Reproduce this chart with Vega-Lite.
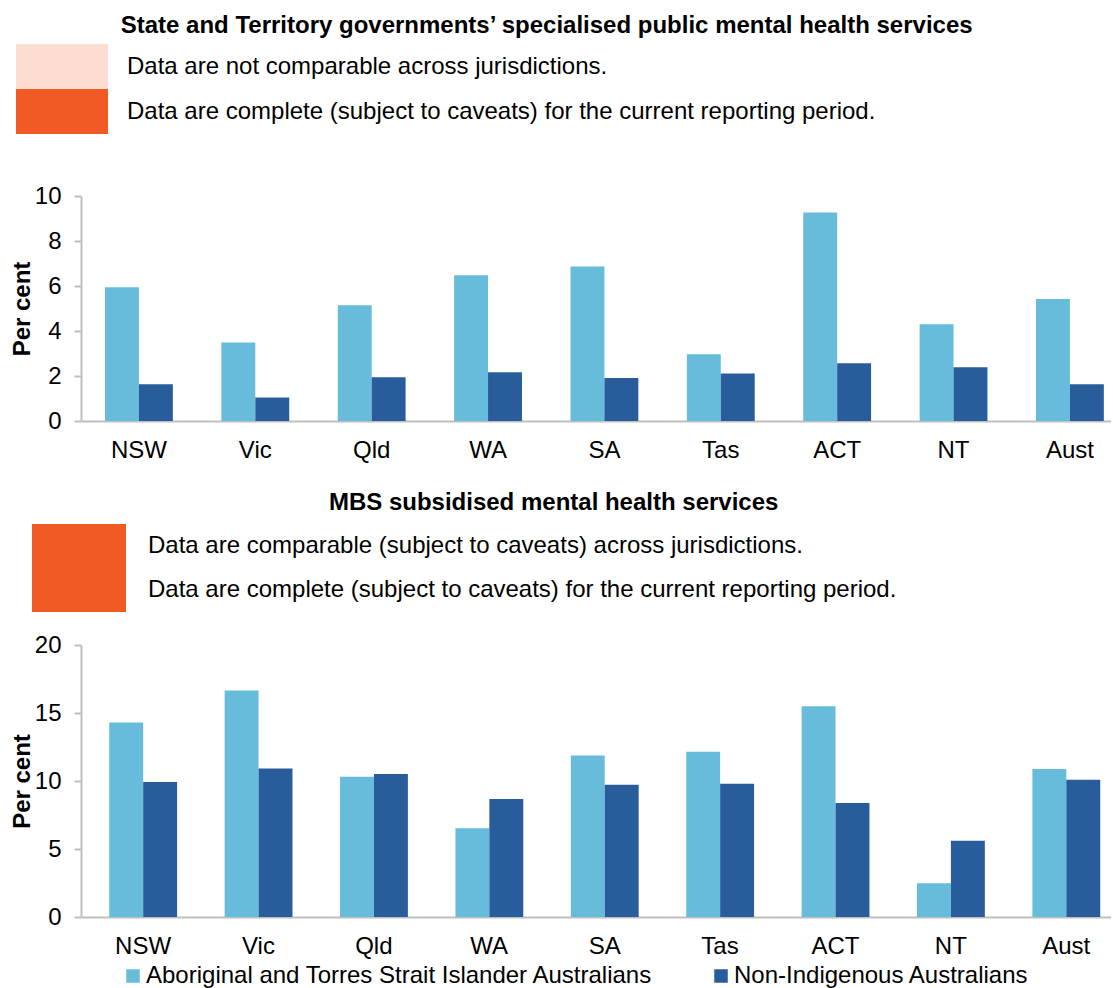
{
  "$schema": "https://vega.github.io/schema/vega-lite/v6.json",
  "padding": {"left": 10, "top": 14, "right": 0, "bottom": 0},
  "background": "white",
  "config": {
    "font": "Liberation Sans",
    "view": {"stroke": null},
    "axis": {"labelColor": "black", "titleColor": "black", "labelFont": "Liberation Sans", "titleFont": "Liberation Sans"},
    "title": {"color": "black", "font": "Liberation Sans"}
  },
  "datasets": {
    "mh1": [
      {"state": "NSW", "group": "Aboriginal and Torres Strait Islander Australians", "value": 5.94},
      {"state": "NSW", "group": "Non-Indigenous Australians", "value": 1.63},
      {"state": "Vic", "group": "Aboriginal and Torres Strait Islander Australians", "value": 3.49},
      {"state": "Vic", "group": "Non-Indigenous Australians", "value": 1.04},
      {"state": "Qld", "group": "Aboriginal and Torres Strait Islander Australians", "value": 5.15},
      {"state": "Qld", "group": "Non-Indigenous Australians", "value": 1.94},
      {"state": "WA", "group": "Aboriginal and Torres Strait Islander Australians", "value": 6.48},
      {"state": "WA", "group": "Non-Indigenous Australians", "value": 2.17},
      {"state": "SA", "group": "Aboriginal and Torres Strait Islander Australians", "value": 6.87},
      {"state": "SA", "group": "Non-Indigenous Australians", "value": 1.91},
      {"state": "Tas", "group": "Aboriginal and Torres Strait Islander Australians", "value": 2.97},
      {"state": "Tas", "group": "Non-Indigenous Australians", "value": 2.11},
      {"state": "ACT", "group": "Aboriginal and Torres Strait Islander Australians", "value": 9.27},
      {"state": "ACT", "group": "Non-Indigenous Australians", "value": 2.57},
      {"state": "NT", "group": "Aboriginal and Torres Strait Islander Australians", "value": 4.30},
      {"state": "NT", "group": "Non-Indigenous Australians", "value": 2.39},
      {"state": "Aust", "group": "Aboriginal and Torres Strait Islander Australians", "value": 5.42},
      {"state": "Aust", "group": "Non-Indigenous Australians", "value": 1.63}
    ],
    "mh2": [
      {"state": "NSW", "group": "Aboriginal and Torres Strait Islander Australians", "value": 14.31},
      {"state": "NSW", "group": "Non-Indigenous Australians", "value": 9.93},
      {"state": "Vic", "group": "Aboriginal and Torres Strait Islander Australians", "value": 16.66},
      {"state": "Vic", "group": "Non-Indigenous Australians", "value": 10.92},
      {"state": "Qld", "group": "Aboriginal and Torres Strait Islander Australians", "value": 10.32},
      {"state": "Qld", "group": "Non-Indigenous Australians", "value": 10.52},
      {"state": "WA", "group": "Aboriginal and Torres Strait Islander Australians", "value": 6.53},
      {"state": "WA", "group": "Non-Indigenous Australians", "value": 8.68},
      {"state": "SA", "group": "Aboriginal and Torres Strait Islander Australians", "value": 11.88},
      {"state": "SA", "group": "Non-Indigenous Australians", "value": 9.73},
      {"state": "Tas", "group": "Aboriginal and Torres Strait Islander Australians", "value": 12.15},
      {"state": "Tas", "group": "Non-Indigenous Australians", "value": 9.79},
      {"state": "ACT", "group": "Aboriginal and Torres Strait Islander Australians", "value": 15.5},
      {"state": "ACT", "group": "Non-Indigenous Australians", "value": 8.38},
      {"state": "NT", "group": "Aboriginal and Torres Strait Islander Australians", "value": 2.49},
      {"state": "NT", "group": "Non-Indigenous Australians", "value": 5.6},
      {"state": "Aust", "group": "Aboriginal and Torres Strait Islander Australians", "value": 10.89},
      {"state": "Aust", "group": "Non-Indigenous Australians", "value": 10.1}
    ],
    "notes1": [
      {"note": "Data are not comparable across jurisdictions."},
      {"note": "Data are complete (subject to caveats) for the current reporting period."}
    ],
    "notes2": [
      {"note": "Data are comparable (subject to caveats) across jurisdictions."},
      {"note": "Data are complete (subject to caveats) for the current reporting period. "}
    ]
  },
  "bounds": "flush",
  "spacing": 224,
  "resolve": {
    "scale": {"fill": "independent", "x": "independent", "y": "independent"},
    "legend": {"fill": "independent", "color": "independent"}
  },
  "vconcat": [
    {
      "title": {"text": "State and Territory governments’ specialised public mental health services", "fontSize": 24, "fontWeight": "bold", "anchor": "middle", "frame": "bounds", "offset": 6, "dx": -14},
      "width": 1030,
      "height": 225,
      "layer": [
        {
          "data": {"name": "notes1"},
          "mark": {"type": "point", "filled": true, "opacity": 0},
          "encoding": {
            "fill": {
              "field": "note", "type": "nominal",
              "scale": {"domain": ["Data are not comparable across jurisdictions.", "Data are complete (subject to caveats) for the current reporting period."], "range": ["#FCDDD2", "#F15A24"]},
              "legend": {"orient": "none", "legendX": -65, "legendY": -152, "title": null, "padding": 0, "rowPadding": 0, "clipHeight": 45,
                "symbolType": "M-1,-0.49H1V0.49H-1Z", "symbolSize": 8464, "symbolOpacity": 1, "symbolStrokeWidth": 0,
                "labelFontSize": 24, "labelFont": "Liberation Sans", "labelColor": "black", "labelOffset": 19, "labelLimit": 1000}
            }
          }
        },
        {
          "data": {"name": "mh1"},
          "mark": {"type": "bar"},
          "encoding": {
            "x": {"field": "state", "type": "nominal", "sort": ["NSW", "Vic", "Qld", "WA", "SA", "Tas", "ACT", "NT", "Aust"],
              "scale": {"paddingInner": 0.417, "paddingOuter": 0.134, "align": 0.77},
              "axis": {"title": null, "ticks": false, "labelAngle": 0, "labelFontSize": 24, "labelPadding": 17, "domainColor": "#BFBFBF", "domainWidth": 2}},
            "xOffset": {"field": "group", "type": "nominal", "scale": {"paddingInner": 0, "paddingOuter": 0}},
            "y": {"field": "value", "type": "quantitative", "scale": {"domain": [0, 10], "nice": false},
              "axis": {"title": "Per cent", "values": [0, 2, 4, 6, 8, 10], "grid": false, "titleFontSize": 24, "titleFontWeight": "bold", "titlePadding": 0,
                "labelFontSize": 24, "labelPadding": 13, "tickSize": 7, "tickColor": "#BFBFBF", "tickWidth": 2, "domainColor": "#BFBFBF", "domainWidth": 2}},
            "color": {"field": "group", "type": "nominal",
              "scale": {"domain": ["Aboriginal and Torres Strait Islander Australians", "Non-Indigenous Australians"], "range": ["#67BCDB", "#285C9B"]},
              "legend": null}
          }
        }
      ]
    },
    {
      "title": {"text": "MBS subsidised mental health services", "fontSize": 24, "fontWeight": "bold", "anchor": "middle", "frame": "bounds", "offset": 9, "dx": -7},
      "width": 1030,
      "height": 272,
      "layer": [
        {
          "data": {"name": "notes2"},
          "mark": {"type": "point", "filled": true, "opacity": 0},
          "encoding": {
            "fill": {
              "field": "note", "type": "nominal",
              "scale": {"domain": ["Data are comparable (subject to caveats) across jurisdictions.", "Data are complete (subject to caveats) for the current reporting period. "], "range": ["#F15A24", "#F15A24"]},
              "legend": {"orient": "none", "legendX": -49, "legendY": -121, "title": null, "padding": 0, "rowPadding": 0, "clipHeight": 44,
                "symbolType": "M-1,-0.468H1V0.468H-1Z", "symbolSize": 8836, "symbolOpacity": 1, "symbolStrokeWidth": 0,
                "labelFontSize": 24, "labelFont": "Liberation Sans", "labelColor": "black", "labelOffset": 22, "labelLimit": 1000}
            }
          }
        },
        {
          "data": {"name": "mh2"},
          "mark": {"type": "bar"},
          "encoding": {
            "x": {"field": "state", "type": "nominal", "sort": ["NSW", "Vic", "Qld", "WA", "SA", "Tas", "ACT", "NT", "Aust"],
              "scale": {"paddingInner": 0.414, "paddingOuter": 0.17, "align": 0.72},
              "axis": {"title": null, "ticks": false, "labelAngle": 0, "labelFontSize": 24, "labelPadding": 17, "domainColor": "#BFBFBF", "domainWidth": 2}},
            "xOffset": {"field": "group", "type": "nominal", "scale": {"paddingInner": 0, "paddingOuter": 0}},
            "y": {"field": "value", "type": "quantitative", "scale": {"domain": [0, 20], "nice": false},
              "axis": {"title": "Per cent", "values": [0, 5, 10, 15, 20], "grid": false, "titleFontSize": 24, "titleFontWeight": "bold", "titlePadding": 0,
                "labelFontSize": 24, "labelPadding": 13, "tickSize": 7, "tickColor": "#BFBFBF", "tickWidth": 2, "domainColor": "#BFBFBF", "domainWidth": 2}},
            "color": {"field": "group", "type": "nominal",
              "scale": {"domain": ["Aboriginal and Torres Strait Islander Australians", "Non-Indigenous Australians"], "range": ["#67BCDB", "#285C9B"]},
              "legend": {"orient": "none", "legendX": 40, "legendY": 319, "title": null, "direction": "horizontal", "padding": 0,
                "symbolType": "square", "symbolSize": 182, "symbolStrokeWidth": 0, "columnPadding": 56,
                "labelFontSize": 24, "labelFont": "Liberation Sans", "labelColor": "black", "labelOffset": 1, "labelLimit": 1000}}
          }
        }
      ]
    }
  ]
}
